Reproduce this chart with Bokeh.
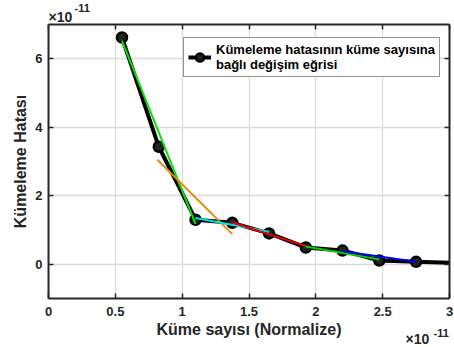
from bokeh.plotting import figure
from bokeh.models import Range1d, LinearAxis, Legend, LegendItem, FixedTicker, CustomJSTickFormatter, Title
from bokeh.embed import file_html
from bokeh.resources import INLINE

# Main curve (values in units of 1e-11)
x_vals = [0.55, 0.825, 1.1, 1.375, 1.65, 1.925, 2.2, 2.475, 2.75, 3.025]
y_vals = [6.62, 3.43, 1.30, 1.21, 0.90, 0.49, 0.40, 0.11, 0.07, 0.04]
n_marked = 9

# Local fitted segments
seg_x = [[0.55, 1.1], [0.815, 1.375], [1.1, 1.65], [1.375, 1.925], [1.925, 2.475], [2.2, 2.75]]
seg_y = [[6.52, 1.18], [3.05, 0.88], [1.35, 0.95], [1.22, 0.53], [0.52, 0.14], [0.38, 0.07]]
seg_colors = ["#00e600", "#e38a12", "#00e0e0", "#ee0000", "#00d000", "#0000ee"]

x_ticks = [0, 0.5, 1, 1.5, 2, 2.5, 3]
y_ticks = [0, 2, 4, 6]
legend_label = "Kümeleme hatasının küme sayısına\nbağlı değişim eğrisi"
exp_base = "×10"
exp_power = "-11"

FONT = "Liberation Sans"
AX = "#262626"

p = figure(width=454, height=347, output_backend="svg", toolbar_location=None,
           x_range=Range1d(0, 3), y_range=Range1d(-1, 7),
           min_border_left=48, min_border_right=5, min_border_top=24, min_border_bottom=49)
p.outline_line_color = None
p.background_fill_color = "white"

for ax, ticks in ((p.xaxis[0], x_ticks), (p.yaxis[0], y_ticks)):
    ax.ticker = FixedTicker(ticks=ticks)
    ax.axis_line_color = AX
    ax.axis_line_width = 2
    ax.major_tick_line_color = AX
    ax.major_tick_line_width = 1.5
    ax.major_tick_in = 5
    ax.major_tick_out = 0
    ax.minor_tick_line_color = None
    ax.major_label_text_font = FONT
    ax.major_label_text_font_style = "bold"
    ax.major_label_text_font_size = "13px"
    ax.major_label_text_color = AX
    ax.axis_label_text_font = FONT
    ax.axis_label_text_font_style = "bold"
    ax.axis_label_text_font_size = "16px"
    ax.axis_label_text_color = AX

p.xaxis.axis_label = "Küme sayısı (Normalize)"
p.yaxis.axis_label = "Kümeleme Hatası"
p.xaxis.major_label_standoff = 8
p.yaxis.major_label_standoff = 6
p.xaxis.axis_label_standoff = 2
p.yaxis.axis_label_standoff = 3

blank = CustomJSTickFormatter(code="return ''")
for loc, ticks in (("above", x_ticks), ("right", y_ticks)):
    a = LinearAxis(ticker=FixedTicker(ticks=ticks), formatter=blank,
                   axis_line_color=AX, axis_line_width=2,
                   major_tick_line_color=AX, major_tick_line_width=1.5,
                   major_tick_in=5, major_tick_out=0, minor_tick_line_color=None,
                   major_label_standoff=0)
    p.add_layout(a, loc)

p.xgrid.ticker = FixedTicker(ticks=x_ticks)
p.ygrid.ticker = FixedTicker(ticks=y_ticks)
p.grid.grid_line_color = "#dcdcdc"
p.grid.grid_line_width = 1.3

main_line = p.line(x_vals, y_vals, line_color="black", line_width=4)
main_pts = p.scatter(x_vals[:n_marked], y_vals[:n_marked], marker="circle", size=10,
                     fill_color="#222222", line_color="black", line_width=2.5)

for sx, sy, c in zip(seg_x, seg_y, seg_colors):
    p.line(sx, sy, line_color=c, line_width=2)

legend = Legend(items=[LegendItem(label=legend_label, renderers=[main_line, main_pts])],
                location=(135, 221), margin=0, padding=4, spacing=0,
                label_text_font=FONT, label_text_font_style="bold",
                label_text_font_size="13px", label_text_color="black",
                label_standoff=5, glyph_width=23, glyph_height=20,
                border_line_color=AX, border_line_width=1.5,
                background_fill_color="white", background_fill_alpha=1)
p.add_layout(legend)

def exp_title(txt, size, off, standoff, valign="bottom"):
    return Title(text=txt, align="left", vertical_align=valign, text_font=FONT,
                 text_font_style="bold", text_font_size=size, text_color=AX,
                 offset=off, standoff=standoff)

# top-left exponent
p.add_layout(exp_title(exp_base, "14px", 0, 0), "above")
p.add_layout(exp_title(exp_power, "11px", 26, -10), "above")
# bottom-right exponent
p.add_layout(exp_title(exp_base, "14px", 357, -20, "top"), "below")
p.add_layout(exp_title(exp_power, "11px", 385, -24, "top"), "below")

open("out.html", "w").write(file_html(p, INLINE))
